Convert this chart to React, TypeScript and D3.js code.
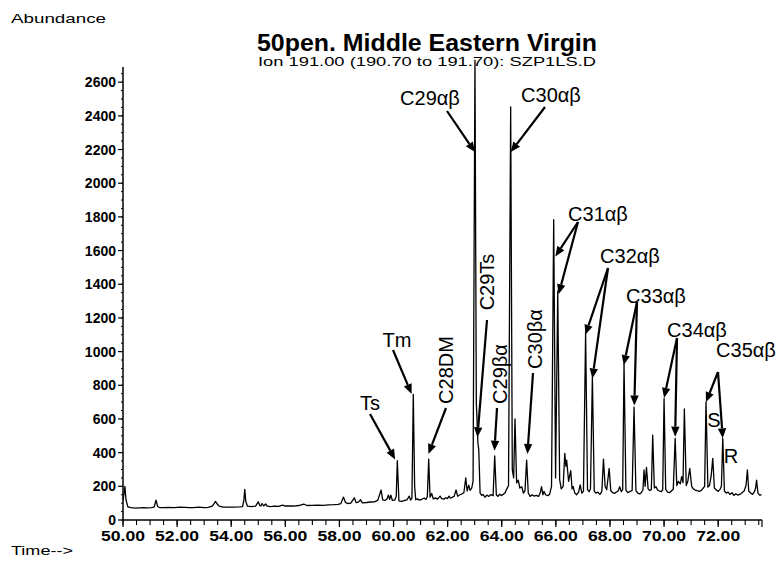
import React from "react";
import * as d3 from "d3";

const W = 778;
const H = 561;

const TITLE = "50pen. Middle Eastern Virgin";
const SUBTITLE = "Ion 191.00 (190.70 to 191.70): SZP1LS.D";
const Y_LABEL = "Abundance";
const X_LABEL = "Time-->";

const Y_TICKS = [0, 200, 400, 600, 800, 1000, 1200, 1400, 1600, 1800, 2000, 2200, 2400, 2600];
const X_TICKS = [50, 52, 54, 56, 58, 60, 62, 64, 66, 68, 70, 72];
const X_TICK_LABELS = ["50.00", "52.00", "54.00", "56.00", "58.00", "60.00", "62.00", "64.00", "66.00", "68.00", "70.00", "72.00"];

// chromatogram trace: [time (min), abundance]
const TRACE: [number, number][] = [
  [50.0, 120], [50.04, 160], [50.07, 200], [50.11, 120], [50.18, 78], [50.3, 73], [50.45, 71], [50.6, 72],
  [50.75, 73], [50.9, 72], [51.05, 74], [51.15, 76], [51.22, 118], [51.28, 80], [51.35, 74], [51.5, 73],
  [51.7, 75], [51.9, 74], [52.1, 76], [52.3, 75], [52.45, 73], [52.6, 74], [52.8, 76], [53.0, 73],
  [53.15, 75], [53.3, 82], [53.38, 100], [53.42, 110], [53.47, 98], [53.55, 82], [53.7, 77], [53.9, 76],
  [54.1, 77], [54.3, 78], [54.42, 80], [54.47, 120], [54.5, 182], [54.54, 110], [54.6, 82], [54.75, 80],
  [54.9, 82], [55.0, 108], [55.06, 85], [55.1, 84], [55.14, 98], [55.2, 83], [55.27, 95], [55.33, 83],
  [55.45, 80], [55.6, 82], [55.75, 81], [55.9, 88], [56.0, 83], [56.15, 84], [56.3, 83], [56.5, 86],
  [56.68, 94], [56.8, 86], [57.0, 87], [57.2, 88], [57.4, 87], [57.6, 90], [57.8, 91], [57.95, 93],
  [58.05, 97], [58.15, 136], [58.22, 105], [58.3, 98], [58.42, 100], [58.55, 132], [58.62, 103], [58.7, 106],
  [58.78, 120], [58.85, 102], [59.0, 104], [59.15, 107], [59.3, 108], [59.42, 118], [59.54, 178], [59.6, 120],
  [59.68, 116], [59.76, 125], [59.81, 148], [59.86, 122], [59.9, 148], [59.96, 116], [60.04, 118], [60.1, 140],
  [60.14, 352], [60.2, 114], [60.3, 110], [60.42, 116], [60.5, 120], [60.58, 142], [60.63, 118], [60.68, 130],
  [60.73, 746], [60.78, 200], [60.82, 120], [60.88, 126], [60.95, 118], [61.05, 123], [61.13, 131], [61.2, 122],
  [61.25, 140], [61.3, 362], [61.35, 135], [61.41, 158], [61.47, 125], [61.55, 131], [61.63, 124], [61.72, 142],
  [61.78, 127], [61.86, 124], [61.93, 132], [61.99, 127], [62.05, 142], [62.1, 129], [62.18, 136], [62.24, 140],
  [62.31, 178], [62.37, 141], [62.45, 150], [62.52, 154], [62.6, 162], [62.67, 250], [62.72, 172], [62.78, 207],
  [62.83, 176], [62.89, 190], [62.94, 230], [63.01, 2730], [63.06, 700], [63.12, 455], [63.15, 420], [63.2, 160],
  [63.26, 146], [63.31, 152], [63.38, 135], [63.45, 148], [63.52, 140], [63.6, 151], [63.68, 144], [63.74, 380],
  [63.8, 150], [63.86, 140], [63.92, 153], [63.98, 145], [64.05, 152], [64.12, 160], [64.18, 182], [64.25, 205],
  [64.33, 2453], [64.39, 300], [64.44, 250], [64.49, 600], [64.55, 220], [64.61, 237], [64.67, 190], [64.74, 198],
  [64.8, 160], [64.86, 175], [64.92, 356], [64.98, 160], [65.05, 140], [65.12, 150], [65.2, 142], [65.28, 146],
  [65.36, 140], [65.42, 160], [65.47, 198], [65.52, 150], [65.56, 170], [65.62, 150], [65.7, 145], [65.77, 152],
  [65.84, 200], [65.92, 1784], [65.99, 250], [66.07, 1360], [66.14, 240], [66.2, 185], [66.27, 200], [66.33, 396],
  [66.37, 320], [66.4, 356], [66.47, 230], [66.55, 293], [66.6, 185], [66.64, 198], [66.7, 160], [66.77, 150],
  [66.84, 166], [66.9, 208], [66.96, 160], [67.02, 170], [67.1, 1112], [67.17, 180], [67.23, 168], [67.28, 185],
  [67.35, 850], [67.42, 170], [67.48, 160], [67.55, 165], [67.63, 152], [67.7, 170], [67.76, 362], [67.82, 200],
  [67.88, 180], [67.97, 307], [68.03, 175], [68.1, 162], [68.17, 158], [68.24, 166], [68.3, 172], [68.36, 198],
  [68.42, 168], [68.47, 180], [68.52, 930], [68.59, 178], [68.66, 162], [68.74, 170], [68.82, 175], [68.89, 670],
  [68.96, 175], [69.03, 160], [69.1, 155], [69.17, 165], [69.22, 180], [69.26, 297], [69.3, 200], [69.35, 313],
  [69.41, 185], [69.47, 175], [69.53, 180], [69.58, 504], [69.64, 190], [69.7, 198], [69.76, 178], [69.83, 172],
  [69.9, 168], [69.95, 180], [70.0, 722], [70.06, 182], [70.13, 166], [70.2, 162], [70.27, 172], [70.34, 182],
  [70.41, 485], [70.47, 205], [70.53, 230], [70.6, 215], [70.65, 257], [70.7, 222], [70.75, 659], [70.82, 205],
  [70.88, 232], [70.95, 307], [71.02, 200], [71.08, 185], [71.15, 178], [71.22, 174], [71.3, 170], [71.38, 176],
  [71.45, 190], [71.5, 200], [71.55, 702], [71.62, 195], [71.68, 205], [71.74, 260], [71.8, 366], [71.86, 190],
  [71.93, 178], [72.0, 170], [72.07, 182], [72.12, 200], [72.17, 485], [72.23, 172], [72.3, 160], [72.37, 166],
  [72.44, 152], [72.51, 162], [72.58, 146], [72.65, 156], [72.72, 148], [72.8, 152], [72.88, 162], [72.96, 172],
  [73.03, 205], [73.08, 297], [73.13, 172], [73.2, 160], [73.27, 152], [73.33, 165], [73.38, 185], [73.42, 237],
  [73.47, 160], [73.53, 148], [73.6, 150],
];

// peak annotations: label text, and arrow tips in data coordinates [time, abundance]
const HORIZ_LABELS = ["Ts", "Tm", "C29\u03b1\u03b2", "C30\u03b1\u03b2", "C31\u03b1\u03b2", "C32\u03b1\u03b2", "C33\u03b1\u03b2", "C34\u03b1\u03b2", "C35\u03b1\u03b2", "S", "R"];
const VERT_LABELS = ["C28DM", "C29Ts", "C29\u03b2\u03b1", "C30\u03b2\u03b1"];
const ARROW_TIPS: [number, number][][] = [
  [[60.06, 360]], // Ts
  [[60.67, 748]], // Tm
  [[63.01, 2185]], // C29ab
  [[64.33, 2185]], // C30ab
  [[65.98, 1565], [66.1, 1340]], // C31
  [[67.09, 1100], [67.35, 840]], // C32
  [[68.51, 920], [68.9, 680]], // C33
  [[70.0, 725], [70.41, 495]], // C34
  [[71.55, 700], [72.17, 485]], // C35
  [], // S
  [], // R
];
const VERT_TIPS: [number, number][] = [
  [61.29, 392], // C28DM
  [63.1, 491], // C29Ts
  [63.73, 411], // C29ba
  [64.95, 392], // C30ba
];

// layout (pixels)
const H_LAYOUT: { x: number; y: number; from: [number, number] }[] = [
  { x: 370, y: 410, from: [370, 414] },
  { x: 397, y: 347, from: [393, 350] },
  { x: 430, y: 105, from: [447, 111] },
  { x: 551, y: 102, from: [545, 107] },
  { x: 598, y: 221, from: [578, 222] },
  { x: 630, y: 263, from: [608, 268] },
  { x: 656, y: 303, from: [637, 302] },
  { x: 697, y: 337, from: [677, 338] },
  { x: 746, y: 357, from: [718, 372] },
  { x: 714, y: 427, from: [0, 0] },
  { x: 731, y: 463, from: [0, 0] },
];
const V_LAYOUT: { cx: number; cy: number; from: [number, number] }[] = [
  { cx: 446, cy: 370, from: [446, 408] },
  { cx: 487, cy: 282, from: [487, 320] },
  { cx: 500, cy: 374, from: [497, 408] },
  { cx: 535, cy: 339, from: [533, 373] },
];

const FONT = "'Liberation Sans', Arial, Helvetica, sans-serif";

function Arrow({ x1, y1, x2, y2 }: { x1: number; y1: number; x2: number; y2: number }) {
  const ang = Math.atan2(y2 - y1, x2 - x1);
  const len = 10;
  const hw = 4.2;
  const bx = x2 - len * Math.cos(ang);
  const by = y2 - len * Math.sin(ang);
  const px = -Math.sin(ang) * hw;
  const py = Math.cos(ang) * hw;
  return (
    <g>
      <line x1={x1} y1={y1} x2={bx} y2={by} stroke="#000" strokeWidth={2.2} />
      <polygon points={`${x2},${y2} ${bx + px},${by + py} ${bx - px},${by - py}`} fill="#000" />
    </g>
  );
}

export default function App() {
  const x = d3.scaleLinear().domain([50, 73.62]).range([123, 762]);
  const y = d3.scaleLinear().domain([0, 2690]).range([520, 67]);
  const line = d3
    .line<[number, number]>()
    .x((d) => x(d[0]))
    .y((d) => y(d[1]));

  const minorX = d3.range(50, 73.6, 0.5);
  const minorY = d3.range(0, 2690, 50);

  return (
    <svg width={W} height={H} style={{ position: "absolute", left: 0, top: 0, background: "#fff" }} fontFamily={FONT}>
      <rect x={0} y={0} width={W} height={H} fill="#fff" />
      <text x={11} y={23} fontSize={12.5} textLength={95} lengthAdjust="spacingAndGlyphs">{Y_LABEL}</text>
      <text x={11} y={555} fontSize={12.5} textLength={62} lengthAdjust="spacingAndGlyphs">{X_LABEL}</text>
      <text x={257} y={51} fontSize={23} fontWeight="bold" textLength={340} lengthAdjust="spacingAndGlyphs">{TITLE}</text>
      <text x={258} y={66} fontSize={12.5} textLength={338} lengthAdjust="spacingAndGlyphs">{SUBTITLE}</text>

      {/* axes */}
      <line x1={123} y1={520} x2={123} y2={67} stroke="#000" strokeWidth={1.5} />
      <line x1={123} y1={520} x2={762} y2={520} stroke="#000" strokeWidth={1.5} />
      {minorY.map((v) => (
        <line key={"my" + v} x1={121} x2={123} y1={y(v)} y2={y(v)} stroke="#000" strokeWidth={1} />
      ))}
      {Y_TICKS.map((v) => (
        <g key={"y" + v}>
          <line x1={118} x2={123} y1={y(v)} y2={y(v)} stroke="#000" strokeWidth={1.2} />
          <text x={116} y={y(v) + 5} fontSize={14} fontWeight="bold" textAnchor="end">{v}</text>
        </g>
      ))}
      {minorX.map((t) => (
        <line key={"mx" + t} x1={x(t)} x2={x(t)} y1={520} y2={525} stroke="#000" strokeWidth={1.1} />
      ))}
      <line x1={762} x2={762} y1={520} y2={527} stroke="#000" strokeWidth={1.2} />
      {X_TICKS.map((t, i) => (
        <g key={"x" + t}>
          <line x1={x(t)} x2={x(t)} y1={520} y2={527} stroke="#000" strokeWidth={1.2} />
          <text x={x(t) - 22} y={541} fontSize={15} fontWeight="bold" textLength={44} lengthAdjust="spacingAndGlyphs">{X_TICK_LABELS[i]}</text>
        </g>
      ))}

      {/* trace */}
      <path d={line(TRACE) || ""} fill="none" stroke="#000" strokeWidth={1.3} strokeLinejoin="round" />

      {/* annotations */}
      {HORIZ_LABELS.map((lab, i) => (
        <g key={"h" + i}>
          <text x={H_LAYOUT[i].x} y={H_LAYOUT[i].y} fontSize={20} textAnchor="middle">{lab}</text>
          {ARROW_TIPS[i].map((tip, j) => (
            <Arrow key={j} x1={H_LAYOUT[i].from[0]} y1={H_LAYOUT[i].from[1]} x2={x(tip[0])} y2={y(tip[1])} />
          ))}
        </g>
      ))}
      {VERT_LABELS.map((lab, i) => (
        <g key={"v" + i}>
          <text
            transform={`translate(${V_LAYOUT[i].cx},${V_LAYOUT[i].cy}) rotate(-90)`}
            fontSize={20}
            textAnchor="middle"
            dominantBaseline="central"
          >
            {lab}
          </text>
          <Arrow x1={V_LAYOUT[i].from[0]} y1={V_LAYOUT[i].from[1]} x2={x(VERT_TIPS[i][0])} y2={y(VERT_TIPS[i][1])} />
        </g>
      ))}
    </svg>
  );
}
